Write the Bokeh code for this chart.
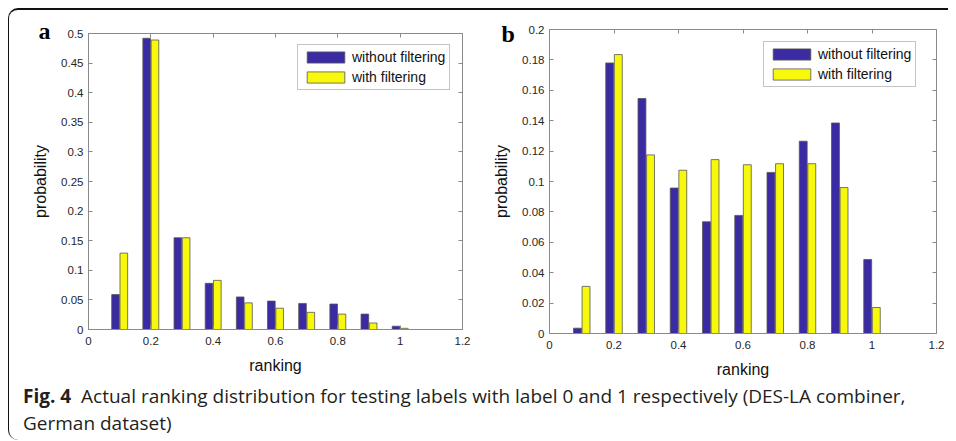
from bokeh.plotting import figure
from bokeh.models import Range1d, FixedTicker, LinearAxis, Legend, LegendItem, Div, ColumnDataSource
from bokeh.layouts import row, column
from bokeh.transform import dodge
from bokeh.embed import file_html
from bokeh.resources import INLINE

# ---------------- data ----------------
ranking = [0.1, 0.2, 0.3, 0.4, 0.5, 0.6, 0.7, 0.8, 0.9, 1.0]
a_without = [0.059, 0.492, 0.155, 0.078, 0.055, 0.048, 0.044, 0.043, 0.026, 0.0056]
a_with = [0.129, 0.489, 0.155, 0.083, 0.045, 0.036, 0.029, 0.026, 0.011, 0.002]
b_without = [0.0035, 0.178, 0.1546, 0.0957, 0.0735, 0.0777, 0.106, 0.1265, 0.1385, 0.0487]
b_with = [0.031, 0.1835, 0.1175, 0.1074, 0.1144, 0.111, 0.1117, 0.1117, 0.096, 0.0171]

series_names = ["without filtering", "with filtering"]
series_colors = ["#3b2ba3", "#f8f80c"]
panel_letters = ["a", "b"]

x_ticks = [0, 0.2, 0.4, 0.6, 0.8, 1.0, 1.2]
x_tick_labels = ["0", "0.2", "0.4", "0.6", "0.8", "1", "1.2"]
a_y_ticks = [0, 0.05, 0.1, 0.15, 0.2, 0.25, 0.3, 0.35, 0.4, 0.45, 0.5]
a_y_labels = ["0", "0.05", "0.1", "0.15", "0.2", "0.25", "0.3", "0.35", "0.4", "0.45", "0.5"]
b_y_ticks = [0, 0.02, 0.04, 0.06, 0.08, 0.1, 0.12, 0.14, 0.16, 0.18, 0.2]
b_y_labels = ["0", "0.02", "0.04", "0.06", "0.08", "0.1", "0.12", "0.14", "0.16", "0.18", "0.2"]

caption_bold = "Fig. 4"
caption_line1 = "Actual ranking distribution for testing labels with label 0 and 1 respectively (DES-LA combiner,"
caption_line2 = "German dataset)"

AX = "#8a8a8a"
TXT = "#262626"
FONT = "Liberation Sans"


def panel(width, height, bl, br, bt, bb, ymax, yticks, ylabels, without, with_, legend_loc):
    p = figure(width=width, height=height, output_backend="svg", toolbar_location=None,
               title=None,
               x_range=Range1d(0, 1.2), y_range=Range1d(0, ymax),
               min_border_left=bl, min_border_right=br, min_border_top=bt, min_border_bottom=bb)
    p.xgrid.visible = False
    p.ygrid.visible = False
    p.border_fill_color = None
    p.outline_line_color = AX
    p.outline_line_width = 1
    src = ColumnDataSource(dict(x=ranking, w=without, f=with_))
    r1 = p.vbar(x=dodge("x", -0.0133), top="w", width=0.0245, source=src,
                fill_color=series_colors[0], line_color="#555555", line_width=0.8)
    r2 = p.vbar(x=dodge("x", 0.0133), top="f", width=0.0245, source=src,
                fill_color=series_colors[1], line_color="#555555", line_width=0.8)

    for ax in (p.xaxis[0], p.yaxis[0]):
        ax.axis_line_color = AX
        ax.major_tick_line_color = AX
        ax.major_tick_in = 4
        ax.major_tick_out = 0
        ax.minor_tick_line_color = None
        ax.major_label_text_font = FONT
        ax.major_label_text_font_size = "11.5px"
        ax.major_label_text_color = TXT
        ax.axis_label_text_font = FONT
        ax.axis_label_text_font_size = "16px"
        ax.axis_label_text_font_style = "normal"
        ax.axis_label_text_color = "#111111"
    p.xaxis[0].ticker = FixedTicker(ticks=x_ticks)
    p.xaxis[0].major_label_overrides = dict(zip(x_ticks, x_tick_labels))
    p.xaxis[0].major_label_standoff = 7
    p.xaxis[0].axis_label = "ranking"
    p.xaxis[0].axis_label_standoff = 9
    p.yaxis[0].ticker = FixedTicker(ticks=yticks)
    p.yaxis[0].major_label_overrides = dict(zip(yticks, ylabels))
    p.yaxis[0].major_label_standoff = 5
    p.yaxis[0].axis_label = "probability"
    p.yaxis[0].axis_label_standoff = 9

    # box ticks on the top and right edges
    top = LinearAxis(ticker=FixedTicker(ticks=x_ticks), fixed_location=ymax)
    right = LinearAxis(ticker=FixedTicker(ticks=yticks), fixed_location=1.2)
    top.major_label_overrides = {t: "" for t in x_ticks}
    right.major_label_overrides = {t: "" for t in yticks}
    for ax in (top, right):
        ax.axis_line_color = AX
        ax.major_tick_line_color = AX
        ax.major_tick_in = 4
        ax.major_tick_out = 0
        ax.minor_tick_line_color = None
        ax.major_label_standoff = 0
    p.add_layout(top, "above")
    p.add_layout(right, "right")

    leg = Legend(items=[LegendItem(label=series_names[0], renderers=[r1]),
                        LegendItem(label=series_names[1], renderers=[r2])],
                 location=legend_loc, orientation="vertical")
    leg.border_line_color = AX
    leg.border_line_width = 1
    leg.background_fill_color = "white"
    leg.background_fill_alpha = 1
    leg.padding = 4
    leg.spacing = 4
    leg.margin = 0
    leg.glyph_width = 47
    leg.glyph_height = 14
    leg.label_height = 14
    leg.label_standoff = 3
    leg.label_text_font = FONT
    leg.label_text_font_size = "14px"
    leg.label_text_color = "#111111"
    p.add_layout(leg)
    return p


fa = panel(481, 368, 79, 28, 23, 49, 0.5, a_y_ticks, a_y_labels, a_without, a_with, (209, 239))
fb = panel(458, 376, 59, 12, 23, 49, 0.2, b_y_ticks, b_y_labels, b_without, b_with, (214, 246))
fb.styles = {"margin-top": "-4px"}

# panel letters, in a strip that sits behind the (transparent) plot margins
letters = Div(text=(f'<div style="white-space:nowrap">'
                    f'<span style="display:inline-block;margin-left:29.5px;width:463px">{panel_letters[0]}</span>'
                    f'<span style="display:inline-block;position:relative;top:3px">{panel_letters[1]}</span>'
                    f'</div>'),
              width=939, height=44, margin=0,
              styles={"font-family": "'Liberation Serif'", "font-weight": "bold",
                      "font-size": "24px", "line-height": "24px", "color": "black",
                      "padding-top": "9px", "margin-bottom": "-44px"})

cap = Div(text=(f'<div><b>{caption_bold}</b>&nbsp;&nbsp;{caption_line1}</div>'
                f'<div>{caption_line2}</div>'),
          width=930, height=58, margin=0,
          styles={"font-family": "'Open Sans'", "font-size": "19px", "line-height": "27px",
                  "color": "#231f20", "padding-left": "14px", "padding-top": "1px",
                  "white-space": "nowrap"})

layout = column(letters, row(fa, fb), cap,
                styles={"border-top": "2px solid #111", "border-left": "1.5px solid #111",
                        "border-top-left-radius": "10px", "border-bottom-left-radius": "10px",
                        "margin-left": "8px", "margin-top": "8px"})

open("out.html", "w").write(file_html(layout, INLINE))
